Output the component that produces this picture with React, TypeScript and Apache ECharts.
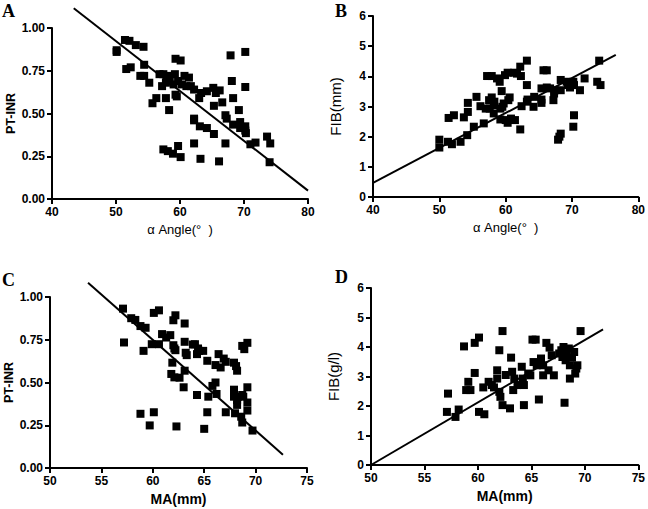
import React, { useEffect, useRef } from "react";
import * as echarts from "echarts";

// Panel A: alpha angle vs PT-INR
const panelA: [number, number][] = [
  [50.1, 0.87], [50.1, 0.86], [51.4, 0.93], [52.1, 0.925], [53.1, 0.9], [54.3, 0.89],
  [51.6, 0.76], [52.3, 0.77], [53.8, 0.72], [54.4, 0.72], [54.4, 0.785], [55.2, 0.68],
  [55.7, 0.56], [56.3, 0.59], [56.8, 0.73], [57.4, 0.73], [57.2, 0.66], [57.8, 0.68],
  [57.8, 0.59], [58.3, 0.52], [58.2, 0.72], [58.4, 0.69], [59.0, 0.67], [59.2, 0.73],
  [59.3, 0.82], [60.1, 0.81], [59.3, 0.61], [59.5, 0.6], [59.7, 0.69], [60.3, 0.67],
  [60.7, 0.72], [61.4, 0.71], [61.0, 0.66], [61.7, 0.66], [62.2, 0.64], [62.2, 0.47],
  [62.2, 0.46], [63.0, 0.59], [63.3, 0.62], [64.2, 0.63], [65.2, 0.65], [65.6, 0.62],
  [66.2, 0.635], [65.3, 0.545], [66.6, 0.565], [63.1, 0.425], [64.2, 0.415], [65.3, 0.38],
  [67.1, 0.49], [67.3, 0.47], [67.9, 0.84], [68.1, 0.69], [68.3, 0.59], [68.3, 0.435],
  [69.2, 0.52], [69.4, 0.45], [70.2, 0.86], [70.2, 0.655], [69.4, 0.415], [70.2, 0.425],
  [70.2, 0.4], [70.3, 0.385], [71.0, 0.32], [71.8, 0.33], [73.6, 0.365], [74.1, 0.325],
  [74.0, 0.215], [67.1, 0.325], [66.1, 0.22], [63.2, 0.235], [62.2, 0.325], [60.1, 0.245],
  [59.7, 0.31], [58.9, 0.265], [58.1, 0.28], [57.4, 0.29],
];
const fitA: [number, number][] = [[43.4, 1.115], [80, 0.049]];

// Panel B: alpha angle vs FIB
const panelB: [number, number][] = [
  [50.0, 1.9], [50.0, 1.64], [51.3, 1.83], [51.9, 1.75], [53.2, 1.83], [54.2, 2.05],
  [51.4, 2.62], [52.2, 2.71], [53.7, 2.64], [54.3, 2.82], [54.3, 3.12], [55.2, 2.33],
  [55.6, 3.32], [56.2, 3.01], [56.7, 2.44], [57.2, 4.01], [57.9, 4.01], [57.0, 2.93],
  [57.5, 3.21], [57.9, 3.3], [57.6, 2.93], [58.2, 3.05], [58.2, 2.77], [58.3, 3.16],
  [58.7, 3.93], [59.1, 3.82], [59.4, 3.51], [59.2, 2.93], [59.2, 2.57], [59.5, 2.99],
  [59.7, 3.1], [59.9, 4.04], [60.3, 4.12], [60.0, 2.55], [60.3, 2.46], [60.4, 3.21],
  [60.6, 3.3], [60.8, 2.6], [61.3, 4.12], [61.7, 4.09], [61.4, 2.55], [62.2, 4.32],
  [62.3, 4.01], [62.2, 2.24], [62.4, 3.01], [63.2, 4.52], [63.2, 3.71], [63.2, 3.16],
  [63.3, 3.23], [64.2, 2.99], [64.3, 3.32], [65.4, 3.12], [65.4, 3.23], [65.7, 4.2],
  [66.2, 4.2], [65.4, 3.6], [66.2, 3.63], [66.7, 3.6], [67.2, 3.21], [67.3, 3.43],
  [67.4, 3.54], [67.9, 1.9], [68.1, 2.0], [68.3, 2.1], [68.3, 3.54], [68.3, 3.88],
  [69.2, 3.82], [69.4, 3.71], [69.7, 3.63], [70.2, 3.82], [70.3, 3.71], [70.3, 2.71],
  [70.2, 2.33], [71.2, 3.54], [71.9, 3.93], [74.1, 4.52], [73.8, 3.82], [74.3, 3.71],
];
const fitB: [number, number][] = [[40, 0.465], [76.6, 4.71]];

// Panel C: MA vs PT-INR
const panelC: [number, number][] = [
  [57.1, 0.932], [57.2, 0.734], [57.9, 0.876], [58.3, 0.866], [58.8, 0.83], [59.3, 0.82],
  [59.1, 0.685], [58.8, 0.317], [59.7, 0.249], [60.1, 0.326], [59.9, 0.724], [60.1, 0.907],
  [60.6, 0.922], [60.6, 0.724], [60.9, 0.783], [61.3, 0.763], [61.7, 0.777], [62.0, 0.864],
  [62.2, 0.893], [62.0, 0.718], [62.1, 0.699], [62.2, 0.689], [61.9, 0.616], [61.8, 0.55],
  [62.1, 0.53], [62.6, 0.528], [62.3, 0.243], [63.1, 0.845], [63.1, 0.738], [63.2, 0.674],
  [63.3, 0.66], [63.1, 0.569], [63.0, 0.472], [63.9, 0.722], [64.1, 0.724], [64.3, 0.666],
  [64.4, 0.699], [64.5, 0.685], [64.9, 0.685], [64.3, 0.427], [65.3, 0.627], [65.4, 0.417],
  [65.3, 0.326], [65.0, 0.229], [65.8, 0.48], [66.1, 0.5], [66.1, 0.602], [66.2, 0.433],
  [66.4, 0.666], [66.6, 0.588], [66.9, 0.64], [67.1, 0.621], [67.1, 0.326], [67.9, 0.616],
  [68.1, 0.596], [68.2, 0.569], [67.9, 0.458], [67.9, 0.417], [68.0, 0.32], [68.2, 0.369],
  [68.2, 0.398], [68.3, 0.417], [68.6, 0.3], [68.7, 0.266], [68.7, 0.427], [68.8, 0.417],
  [68.7, 0.714], [68.9, 0.695], [69.2, 0.732], [69.2, 0.472], [69.2, 0.383], [69.2, 0.336],
  [69.7, 0.219],
];
const fitC: [number, number][] = [[53.7, 1.083], [72.66, 0.078]];

// Panel D: MA vs FIB
const panelD: [number, number][] = [
  [57.1, 1.8], [57.2, 2.42], [57.9, 1.63], [58.2, 1.88], [58.7, 4.02], [58.9, 2.54],
  [59.1, 2.82], [59.3, 2.54], [59.7, 3.12], [59.7, 4.14], [60.1, 4.32], [60.1, 1.8],
  [60.6, 1.72], [60.5, 2.63], [61.0, 2.82], [61.3, 2.71], [61.5, 2.63], [61.8, 3.21],
  [61.8, 2.93], [62.0, 3.89], [62.0, 2.48], [62.1, 2.31], [62.3, 2.03], [62.3, 4.54],
  [62.6, 3.05], [63.0, 1.92], [63.1, 3.64], [63.2, 3.16], [63.3, 2.54], [63.4, 2.93],
  [63.7, 2.71], [64.1, 3.33], [64.2, 2.93], [64.3, 2.03], [64.3, 2.71], [64.7, 3.1],
  [64.9, 3.04], [65.1, 4.25], [65.4, 4.25], [65.2, 3.49], [65.5, 3.38], [65.7, 2.22],
  [65.9, 3.61], [66.1, 3.38], [66.1, 3.04], [66.4, 4.14], [66.6, 3.21], [66.7, 3.98],
  [66.9, 3.72], [67.1, 3.04], [67.6, 3.78], [67.8, 3.89], [67.9, 3.66], [68.0, 4.0],
  [68.1, 2.11], [68.2, 3.55], [68.3, 3.75], [68.5, 3.95], [68.6, 3.38], [68.6, 2.93],
  [68.8, 3.64], [69.0, 3.83], [69.1, 3.1], [69.2, 3.27], [69.3, 3.38], [69.6, 4.54],
];
const fitD: [number, number][] = [[50, 0.0], [71.7, 4.6]];

const xTitles = ["α Angle(°  )", "α Angle(°  )", "MA(mm)", "MA(mm)"];
const yTitles = ["PT-INR", "FIB(mm)", "PT-INR", "FIB(g/l)"];
const panelLetters = ["A", "B", "C", "D"];

const FONT = "Liberation Sans, Arial, sans-serif";

export default function App() {
  const ref = useRef<HTMLDivElement>(null);
  useEffect(() => {
    if (!ref.current) return;
    const chart = echarts.init(ref.current, null, { renderer: "svg" });
    const grids = [
      { left: 52, top: 28, width: 256, height: 171 },
      { left: 373, top: 16, width: 266, height: 181 },
      { left: 50, top: 297, width: 257, height: 171 },
      { left: 371, top: 288, width: 268, height: 177 },
    ];
    const xCfg = [
      { min: 40, max: 80, interval: 10 },
      { min: 40, max: 80, interval: 10 },
      { min: 50, max: 75, interval: 5 },
      { min: 50, max: 75, interval: 5 },
    ];
    const yCfg = [
      { min: 0, max: 1, interval: 0.25, fmt: (v: number) => v.toFixed(2), gap: 34, size: 12.5, weight: "bold" },
      { min: 0, max: 6, interval: 1, fmt: (v: number) => String(v), gap: 30, size: 15, weight: "normal" },
      { min: 0, max: 1, interval: 0.25, fmt: (v: number) => v.toFixed(2), gap: 34, size: 12.5, weight: "bold" },
      { min: 0, max: 6, interval: 1, fmt: (v: number) => String(v), gap: 30, size: 15, weight: "normal" },
    ];
    const xName = [
      { size: 13, weight: "normal" },
      { size: 13, weight: "normal" },
      { size: 14, weight: "bold" },
      { size: 14, weight: "bold" },
    ];
    const mkAxisLine = () => ({ show: true, onZero: false, lineStyle: { color: "#000", width: 2, opacity: 1 } });
    const mkAxisTick = () => ({ show: true, inside: false, length: 5, lineStyle: { color: "#000", width: 2, opacity: 1 } });
    const labelStyle = { color: "#000", fontFamily: FONT, fontWeight: "bold" as const, fontSize: 12 };
    const panels = [panelA, panelB, panelC, panelD];
    const fits = [fitA, fitB, fitC, fitD];
    const letterPos = [
      { left: 2, top: 2 },
      { left: 335, top: 2 },
      { left: 2, top: 271 },
      { left: 335, top: 268 },
    ];
    chart.setOption({
      animation: false,
      grid: grids.map((g) => ({ ...g, containLabel: false })),
      xAxis: xCfg.map((c, i) => ({
        type: "value",
        gridIndex: i,
        min: c.min,
        max: c.max,
        interval: c.interval,
        axisLine: mkAxisLine(),
        axisTick: mkAxisTick(),
        splitLine: { show: false },
        axisLabel: { ...labelStyle, margin: 7 },
        name: xTitles[i],
        nameLocation: "middle",
        nameGap: 24,
        nameTextStyle: { color: "#000", fontFamily: FONT, fontSize: xName[i].size, fontWeight: xName[i].weight },
      })),
      yAxis: yCfg.map((c, i) => ({
        type: "value",
        gridIndex: i,
        min: c.min,
        max: c.max,
        interval: c.interval,
        axisLine: mkAxisLine(),
        axisTick: mkAxisTick(),
        splitLine: { show: false },
        axisLabel: { ...labelStyle, margin: 7, formatter: c.fmt },
        name: yTitles[i],
        nameLocation: "middle",
        nameGap: c.gap,
        nameTextStyle: { color: "#000", fontFamily: FONT, fontSize: c.size, fontWeight: c.weight },
      })),
      series: [
        ...panels.map((d, i) => ({
          type: "scatter",
          xAxisIndex: i,
          yAxisIndex: i,
          data: d,
          symbol: "rect",
          symbolSize: 8,
          itemStyle: { color: "#000", opacity: 1 },
          clip: false,
        })),
        ...fits.map((d, i) => ({
          type: "line",
          xAxisIndex: i,
          yAxisIndex: i,
          data: d,
          symbol: "none",
          lineStyle: { color: "#000", width: 2 },
          clip: false,
        })),
      ],
      graphic: panelLetters.map((t, i) => ({
        type: "text",
        left: letterPos[i].left,
        top: letterPos[i].top,
        style: {
          text: t,
          fill: "#000",
          font: "bold 18px 'Liberation Serif', 'Times New Roman', serif",
        },
      })),
    });
    return () => chart.dispose();
  }, []);
  return (
    <div
      ref={ref}
      style={{ position: "absolute", left: 0, top: 0, width: 648, height: 509, background: "#fff" }}
    />
  );
}
